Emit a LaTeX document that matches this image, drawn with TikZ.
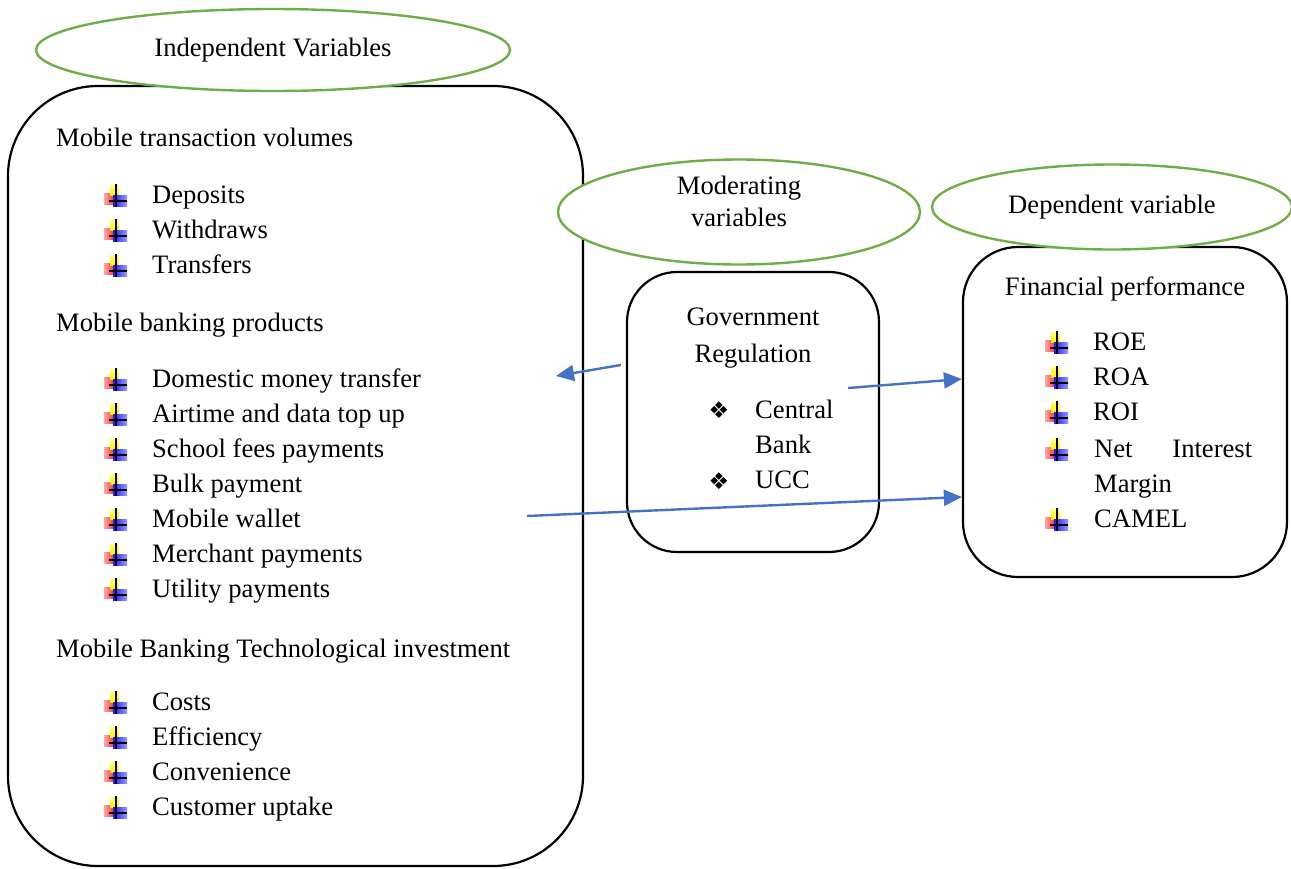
\documentclass[tikz,border=0pt]{standalone}
\usepackage{fontspec}
\setmainfont{Liberation Serif}
\newfontfamily\dingfont{DejaVu Sans}
\usetikzlibrary{arrows.meta,shapes.geometric}
\definecolor{headgreen}{HTML}{70AD47}
\definecolor{linkblue}{HTML}{4472C4}
\tikzset{
    varbox/.style={draw, line width=2.2pt, inner sep=0pt},
    heading/.style={ellipse, draw=headgreen, line width=2.4pt, fill=white,
                    inner sep=0pt, align=center},
    item/.style={anchor=base west, inner sep=0pt},
    itemtext/.style={anchor=base, inner sep=0pt, align=center},
    link/.style={-{Triangle[length=18pt,width=16pt]}, draw=linkblue, line width=2.4pt},
    plusmark/.pic={
        \shade[left color=red!35, right color=red!90] (-12,-8) rectangle (0,3);
        \shade[top color=yellow!55, bottom color=yellow!90!orange] (-6,-16) rectangle (3,-6);
        \shade[left color=blue!90, right color=blue!40] (-3,-6) rectangle (11,5);
        \draw[line width=1.5pt] (0,-17) -- (0,6);
        \draw[line width=1.5pt] (-7,0) -- (11,0);
    },
}
\newcommand{\bulletlist}[4]{
    \foreach \txt [count=\i] in {#4}{
        \pic at (#2,{#3+35*(\i-1)-2}) {plusmark};
        \node[item] (#1\i) at (#2+36,{#3+35*(\i-1)}) {\txt};
    }
}

\begin{document}
\begin{tikzpicture}[x=1pt, y=-1pt, font=\fontsize{26.6}{35}\selectfont]
    \useasboundingbox (0,0) rectangle (1291,868);

    % boxes
    \node[varbox, rounded corners=90pt, minimum width=575pt, minimum height=780pt] (indep) at (295.5,476) {};
    \node[varbox, rounded corners=50pt, minimum width=252pt, minimum height=280pt] (gov) at (753,412) {};
    \node[varbox, rounded corners=55pt, minimum width=324pt, minimum height=330pt] (perf) at (1125,412) {};

    % headings
    \node[heading, minimum width=474pt, minimum height=82pt] (indephead) at (273,50) {Independent Variables};
    \node[heading, minimum width=362pt, minimum height=105pt] (modhead) at (739,212) {};
    \node[align=center, inner sep=0pt, font=\fontsize{26.6}{32}\selectfont] (modtext) at (739,201) {Moderating\\variables};
    \node[heading, minimum width=360pt, minimum height=85pt] (dephead) at (1112,207) {Dependent variable};

    % independent variables
    \node[item] (voltitle) at (56,146) {Mobile transaction volumes};
    \bulletlist{vol}{116}{203}{Deposits, Withdraws, Transfers}
    \node[item] (prodtitle) at (56,331) {Mobile banking products};
    \bulletlist{prod}{116}{387}{Domestic money transfer, Airtime and data top up,
        School fees payments, Bulk payment, Mobile wallet, Merchant payments, Utility payments}
    \node[item] (techtitle) at (56,657) {Mobile Banking Technological investment};
    \bulletlist{tech}{116}{710}{Costs, Efficiency, Convenience, Customer uptake}

    % moderating variable
    \node[itemtext] (govtitle) at (753,325) {Government};
    \node[itemtext] (regtitle) at (753,362) {Regulation};
    \node[inner sep=0pt] (cbmark) at (719,410) {\dingfont\fontsize{23}{23}\selectfont ❖};
    \node[item] (cb) at (755,418) {Central};
    \node[item] (cbank) at (755,453) {Bank};
    \node[inner sep=0pt] (uccmark) at (719,481) {\dingfont\fontsize{23}{23}\selectfont ❖};
    \node[item] (ucc) at (755,488) {UCC};

    % dependent variable
    \node[itemtext] (perftitle) at (1125,295) {Financial performance};
    \bulletlist{ratio}{1057}{350}{ROE, ROA, ROI}
    \pic at (1057,455) {plusmark};
    \node[item] (nim) at (1094,457) {\makebox[158pt][s]{Net Interest}};
    \node[item] (nimb) at (1094,492) {Margin};
    \pic at (1057,525) {plusmark};
    \node[item] (camel) at (1094,527) {CAMEL};

    % links
    \coordinate (indepin) at (556,376);
    \coordinate (govin) at (848,388);
    \coordinate (prodout) at (527,516);
    \draw[link] ([xshift=-5pt,yshift=47pt]gov.west) -- (indepin);
    \draw[link] (govin) -- ([yshift=33pt]perf.west);
    \draw[link] (prodout) -- ([yshift=-85pt]perf.west);
\end{tikzpicture}
\end{document}
